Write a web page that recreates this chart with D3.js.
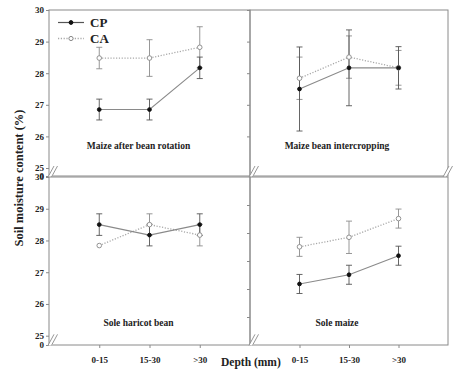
<!DOCTYPE html>
<html>
<head>
<meta charset="utf-8">
<script src="https://cdn.jsdelivr.net/npm/d3@7"></script>
<style>
  body { margin: 0; background: #fff; }
  svg { display: block; }
  text { font-family: 'Liberation Serif', 'Times New Roman', serif; font-weight: bold; fill: #222; }
</style>
</head>
<body>
<svg id="chart" width="455" height="369"></svg>
<script>
// depth classes on the x axis
const depths = ["0-15", "15-30", ">30"];
const panelNames = ["Maize after bean rotation", "Maize bean intercropping", "Sole haricot bean", "Sole maize"];
const seriesNames = ["CP", "CA"];

// soil moisture (%) per panel, per depth
const cpMean = [[26.85, 26.85, 28.17], [27.5, 28.17, 28.17], [28.5, 28.17, 28.5], [26.63, 26.92, 27.52]];
const cpErr  = [[0.33, 0.33, 0.34], [1.33, 1.2, 0.67], [0.34, 0.34, 0.34], [0.3, 0.3, 0.3]];
const caMean = [[28.48, 28.48, 28.82], [27.84, 28.51, 28.17], [27.84, 28.5, 28.17], [27.8, 28.1, 28.69]];
const caErr  = [[0.34, 0.58, 0.65], [0.67, 0.67, 0.55], [0, 0.34, 0.34], [0.3, 0.51, 0.3]];

const yTicks = [25, 26, 27, 28, 29, 30];

const svg = d3.select("#chart");
const grey = "#8a8a8a";

// panel layout: 2 columns x 2 rows, axis broken between 0 and 25
const cols = [[49, 250], [250, 448]];
const rows = [{ top: 10, y25: 168, bottom: 176 }, { top: 177, y25: 335.7, bottom: 345 }];

function breakMark(x, y) {
    const g = svg.append("g");
    g.append("path")
        .attr("d", `M${x - 3},${y + 5} L${x + 3},${y - 6} L${x + 7},${y - 6} L${x + 1},${y + 5} Z`)
        .attr("fill", "#fff");
    [0, 3.5].forEach(dx => {
        g.append("line")
            .attr("x1", x - 3 + dx).attr("y1", y + 5)
            .attr("x2", x + 3 + dx).attr("y2", y - 6)
            .attr("stroke", grey).attr("stroke-width", 0.9);
    });
}

panelNames.forEach((name, i) => {
    const col = i % 2, row = Math.floor(i / 2);
    const [x0, x1] = cols[col];
    const r = rows[row];

    const x = d3.scaleLinear().domain([0, 4]).range([x0, x1]);
    const y = d3.scaleLinear().domain([0, 25, 30]).range([r.bottom, r.y25, r.top]);

    // frame
    svg.append("rect")
        .attr("x", x0).attr("y", r.top)
        .attr("width", x1 - x0).attr("height", r.bottom - r.top)
        .attr("fill", "none").attr("stroke", grey).attr("stroke-width", 1);

    // y axis: labelled on the left column, bare ticks on the right
    let yAxis;
    if (col === 0) {
        yAxis = d3.axisLeft(y).tickValues([0].concat(yTicks)).tickSize(3).tickPadding(2)
            .tickFormat(d3.format("d"));
    } else if (row === 0) {
        yAxis = d3.axisLeft(y).tickValues([26, 27, 28, 29, 30]).tickSize(3).tickFormat("");
    } else {
        const yt = d3.scaleLinear().domain([0, 6]).range([r.bottom, r.top]);
        yAxis = d3.axisLeft(yt).tickValues([1, 2, 3, 4, 5]).tickSize(3).tickFormat("");
    }
    const ya = svg.append("g").attr("transform", `translate(${x0},0)`).call(yAxis);
    ya.select(".domain").remove();
    ya.selectAll(".tick line").attr("stroke", grey);
    ya.selectAll(".tick text").style("font-size", "9px").attr("fill", "#222");

    // x axis ticks on bottom row only
    if (row === 1) {
        const xa = svg.append("g").attr("transform", `translate(0,${r.bottom})`)
            .call(d3.axisBottom(x).tickValues([1, 2, 3]).tickSize(3).tickPadding(9)
                .tickFormat((d) => depths[d - 1]));
        xa.select(".domain").remove();
        xa.selectAll(".tick line").attr("stroke", grey);
        xa.selectAll(".tick text").style("font-size", "9px").attr("fill", "#222");
    }

    // axis break marks
    breakMark(x0 + 2, (r.y25 + r.bottom) / 2);
    if (col === 1 && row === 0) breakMark(x1 - 2, (r.y25 + r.bottom) / 2);

    const series = [
        { key: "CA", mean: caMean[i], err: caErr[i], line: "#a8a8a8", dash: "1.2,1.6", bar: "#8c8c8c" },
        { key: "CP", mean: cpMean[i], err: cpErr[i], line: "#8a8a8a", dash: null, bar: "#555" }
    ];

    series.forEach(s => {
        const pts = s.mean.map((v, j) => ({ x: j + 1, v: v, e: s.err[j] }));

        svg.append("path")
            .datum(pts)
            .attr("fill", "none")
            .attr("stroke", s.line)
            .attr("stroke-width", s.dash ? 1.3 : 1.1)
            .attr("stroke-dasharray", s.dash)
            .attr("d", d3.line().x(d => x(d.x)).y(d => y(d.v)));

        const eb = svg.append("g").selectAll("g")
            .data(pts.filter(d => d.e > 0))
            .enter().append("g")
            .attr("stroke", s.bar).attr("stroke-width", 0.9);
        eb.append("line")
            .attr("x1", d => x(d.x)).attr("x2", d => x(d.x))
            .attr("y1", d => y(d.v - d.e)).attr("y2", d => y(d.v + d.e));
        eb.append("line")
            .attr("x1", d => x(d.x) - 3).attr("x2", d => x(d.x) + 3)
            .attr("y1", d => y(d.v + d.e)).attr("y2", d => y(d.v + d.e));
        eb.append("line")
            .attr("x1", d => x(d.x) - 3).attr("x2", d => x(d.x) + 3)
            .attr("y1", d => y(d.v - d.e)).attr("y2", d => y(d.v - d.e));
    });

    // markers
    series.forEach(s => {
        svg.append("g").selectAll("circle")
            .data(s.mean.map((v, j) => ({ x: j + 1, v: v })))
            .enter().append("circle")
            .attr("cx", d => x(d.x)).attr("cy", d => y(d.v))
            .attr("r", s.key === "CP" ? 1.9 : 2.3)
            .attr("fill", s.key === "CP" ? "#111" : "#fff")
            .attr("stroke", s.key === "CP" ? "#111" : "#888")
            .attr("stroke-width", 0.9);
    });

    // panel label
    svg.append("text")
        .attr("x", (x0 + x1) / 2 + (col === 0 ? -11 : -12))
        .attr("y", row === 0 ? r.top + 139 : r.top + 149)
        .attr("text-anchor", "middle")
        .style("font-size", "9.5px")
        .text(name);
});

// legend (top-left panel)
const legend = svg.append("g");
seriesNames.forEach((n, k) => {
    const ly = 22.5 + k * 16;
    legend.append("line")
        .attr("x1", 58).attr("x2", 84).attr("y1", ly).attr("y2", ly)
        .attr("stroke", k === 0 ? "#555" : "#a8a8a8")
        .attr("stroke-width", k === 0 ? 1.2 : 1.3)
        .attr("stroke-dasharray", k === 0 ? null : "1.2,1.6");
    legend.append("circle")
        .attr("cx", 71).attr("cy", ly).attr("r", k === 0 ? 1.9 : 2.1)
        .attr("fill", k === 0 ? "#111" : "#fff")
        .attr("stroke", k === 0 ? "#111" : "#888");
    legend.append("text")
        .attr("x", 90).attr("y", ly + 4.5)
        .style("font-size", "13px")
        .text(n);
});

// axis titles
svg.append("text")
    .attr("transform", "translate(23,178) rotate(-90)")
    .attr("text-anchor", "middle")
    .style("font-size", "12.5px")
    .text("Soil moisture content (%)");

svg.append("text")
    .attr("x", 221).attr("y", 366)
    .style("font-size", "11.5px")
    .text("Depth (mm)");
</script>
</body>
</html>
